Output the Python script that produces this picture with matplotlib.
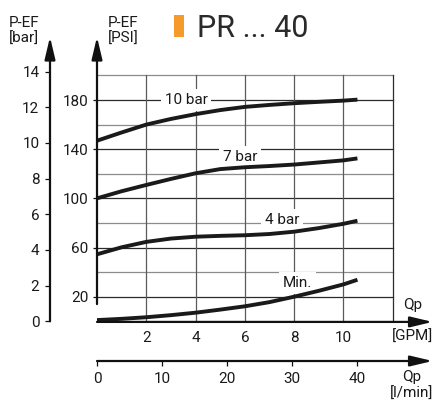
import matplotlib
matplotlib.use("Agg")
import matplotlib.pyplot as plt
from matplotlib.patches import Rectangle

plt.rcParams['font.family'] = ['Roboto', 'DejaVu Sans']

# --- data ---
flow_gpm = [0, 1, 2, 3, 4, 5, 6, 7, 8, 9, 10, 10.57]
psi_10bar = [146.9, 153.6, 160.0, 164.6, 168.5, 171.8, 174.4, 176.0, 177.4, 178.5, 179.5, 180.3]
psi_7bar = [100.0, 105.8, 110.9, 115.8, 120.4, 123.8, 125.3, 126.3, 127.5, 129.2, 130.9, 132.5]
psi_4bar = [54.5, 60.2, 64.6, 67.3, 68.8, 69.5, 70.0, 71.0, 72.9, 75.8, 79.3, 81.8]
psi_min = [1.0, 2.0, 3.3, 5.0, 7.0, 9.5, 12.2, 15.6, 20.0, 24.8, 30.0, 33.8]

curve_labels = ["10 bar", "7 bar", "4 bar", "Min."]
label_pos = [(3.61, 180.0), (5.80, 133.6), (7.51, 82.4), (8.14, 31.0)]

gpm_ticks = [2, 4, 6, 8, 10]
psi_ticks = [20, 60, 100, 140, 180]
bar_ticks = [0, 2, 4, 6, 8, 10, 12, 14]
lmin_ticks = [0, 10, 20, 30, 40]

PSI_PER_BAR = 14.5038
LMIN_PER_GPM = 3.785

W, H = 441, 403
fig = plt.figure(figsize=(W / 100, H / 100), dpi=100)

# axes in pixel terms: GPM 0 at x=97, 13.7 at right; PSI 0 at y=321.3, 232 at top
x0, x1 = 97, 97 + 13.7 * 24.64
y0, y1 = 321.3, 321.3 - 232 * 1.2294
ax = fig.add_axes([x0 / W, 1 - y0 / H, (x1 - x0) / W, (y0 - y1) / H])
ax.set_xlim(0, 13.7)
ax.set_ylim(0, 232)
for s in ax.spines.values():
    s.set_visible(False)
ax.patch.set_visible(False)

txt = '#1a1a1a'
dark = '#2a2a2a'
gray = '#8c8c8c'
fs = 11

# grid
for v in range(20, 201, 20):
    ax.plot([0, 12], [v, v], color=dark if v in psi_ticks else gray, lw=0.9, zorder=1)
for g in range(2, 13, 2):
    ax.plot([g, g], [0, 200], color=dark if g == 12 else '#5a5a5a', lw=0.9, zorder=1)

# curves
for ys in [psi_10bar, psi_7bar, psi_4bar, psi_min]:
    ax.plot(flow_gpm, ys, color='#1a1a1a', lw=2.8, solid_capstyle='butt', zorder=3)

for lab, (gx, py) in zip(curve_labels, label_pos):
    ax.text(gx, py, lab, ha='center', va='center', fontsize=fs, color=txt, zorder=2,
            bbox=dict(boxstyle='square,pad=0.25', fc='white', ec='none'))

# axis arrows
arrow = dict(arrowstyle='-|>,head_length=1.35,head_width=0.32', lw=1.6, color='#111111',
             shrinkA=0, shrinkB=0, mutation_scale=10)
bar_x = (50 - 97) / 24.64
ax.annotate('', xy=(0, 231.3), xytext=(0, 14), arrowprops=arrow, annotation_clip=False)
ax.annotate('', xy=(bar_x, 231.3), xytext=(bar_x, 0), arrowprops=arrow, annotation_clip=False)
ax.annotate('', xy=(13.62, -0.5), xytext=(0, -0.5), arrowprops=arrow, annotation_clip=False)
lmin_y = (321.3 - 361) / 1.2294
ax.annotate('', xy=(13.62, lmin_y), xytext=(0, lmin_y), arrowprops=arrow, annotation_clip=False)

# PSI ticks (main y)
ax.set_yticks(psi_ticks)
ax.tick_params(axis='y', direction='out', length=3, width=0.9, pad=3, labelsize=fs,
               colors=txt, color='#111111')
# GPM ticks (main x)
ax.set_xticks(gpm_ticks)
ax.tick_params(axis='x', length=0, pad=7, labelsize=fs, colors=txt)

# bar axis
bax = ax.secondary_yaxis((50 - 97) / (x1 - x0),
                         functions=(lambda p: p / PSI_PER_BAR, lambda b: b * PSI_PER_BAR))
bax.set_yticks(bar_ticks)
bax.spines['left'].set_visible(False)
bax.tick_params(direction='out', length=3.6, width=0.9, pad=4, labelsize=fs,
                colors=txt, color='#111111')

# l/min axis
lax = ax.secondary_xaxis(lmin_y / 232,
                         functions=(lambda g: g * LMIN_PER_GPM, lambda l: l / LMIN_PER_GPM))
lax.set_xticks(lmin_ticks)
lax.spines['bottom'].set_visible(False)
lax.tick_params(direction='out', length=3.5, width=0.9, pad=4.5, labelsize=fs,
                colors=txt, color='#111111')

# axis names
ax.text(12.82, 13.3, "Qp", ha='center', va='center', fontsize=fs, color=txt, clip_on=False)
ax.text(12.82, -12.5, "[GPM]", ha='center', va='center', fontsize=fs, color=txt, clip_on=False)
ax.text(12.78, -45.1, "Qp", ha='center', va='center', fontsize=fs, color=txt, clip_on=False)
ax.text(12.78, -59.1, "[l/min]", ha='center', va='center', fontsize=fs, color=txt, clip_on=False)
ax.text(-2.95, 236.2, "P-EF\n[bar]", ha='center', va='center', fontsize=fs, color=txt,
        linespacing=1.2, clip_on=False)
ax.text(1.07, 236.2, "P-EF\n[PSI]", ha='center', va='center', fontsize=fs, color=txt,
        linespacing=1.2, clip_on=False)

# title
fig.add_artist(Rectangle((174 / W, 1 - 37 / H), 10 / W, 22 / H, transform=fig.transFigure,
                         color='#F59B2B', lw=0))
fig.text(197 / W, 1 - 37 / H, "PR ... 40", ha='left', va='baseline', fontsize=22,
         color='#2a2a2a')

fig.savefig("out.png", dpi=100)
